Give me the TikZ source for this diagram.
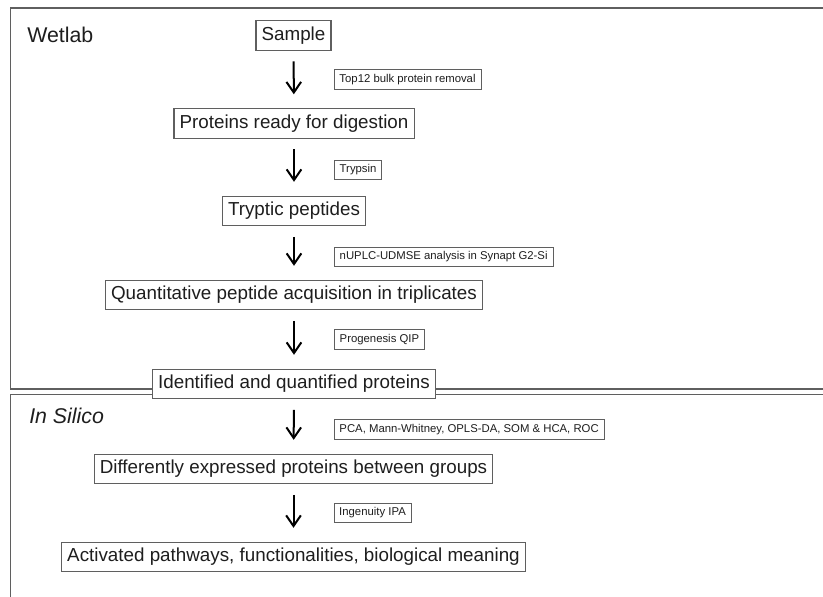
\documentclass[tikz,border=0pt]{standalone}
\usepackage{fontspec}
\setmainfont{Liberation Sans}
\usetikzlibrary{arrows.meta}
\definecolor{framegray}{RGB}{95,95,95}
\definecolor{inkgray}{RGB}{30,30,30}
\tikzset{
	stage/.style={draw=framegray,line width=0.8pt,fill=white,text=inkgray,inner xsep=4.2pt,minimum height=22pt,font=\fontsize{14.1}{16}\selectfont},
	tool/.style={draw=framegray,line width=0.6pt,fill=white,text=inkgray,inner xsep=4pt,minimum height=14.5pt,font=\fontsize{8.5}{10}\selectfont,anchor=west,xshift=30pt},
	flow/.style={line width=1.5pt,-{Straight Barb[length=8pt,width=11pt]},shorten <=8pt,shorten >=10.5pt},
	panel/.style={draw=framegray,line width=1.1pt},
	paneltitle/.style={anchor=base west,inner sep=0pt,text=inkgray,font=\fontsize{16}{19}\selectfont}
}

\begin{document}
\begin{tikzpicture}[x=0.75pt,y=-0.75pt]
	\useasboundingbox (0,0) rectangle (823,596);
	\clip (0,0) rectangle (823,596);
	\draw[panel] (10.5,8) rectangle (860,389);
	\draw[panel] (10.5,394.5) rectangle (860,640);
	\node[paneltitle] (wetlab) at (27,42) {Wetlab};
	\node[paneltitle,font=\fontsize{16}{19}\selectfont\itshape] (insilico) at (29,423) {In Silico};

	\node[stage] (sample) at (293.5,35.5) {Sample};
	\node[stage] (ready) at (294,123.5) {Proteins ready for digestion};
	\node[stage] (tryptic) at (294,211) {Tryptic peptides};
	\node[stage] (acquisition) at (294,295) {Quantitative peptide acquisition in triplicates};
	\node[stage] (identified) at (294,384) {Identified and quantified proteins};
	\node[stage] (expressed) at (293.5,469) {Differently expressed proteins between groups};
	\node[stage] (pathways) at (293.5,557) {Activated pathways, functionalities, biological meaning};

	\draw[flow] (sample) -- node[tool] {Top12 bulk protein removal} (ready);
	\draw[flow] (ready) -- node[tool,yshift=-2pt] {Trypsin} (tryptic);
	\draw[flow] (tryptic) -- node[tool,yshift=-3pt] {nUPLC-UDMSE analysis in Synapt G2-Si} (acquisition);
	\draw[flow] (acquisition) -- node[tool] {Progenesis QIP} (identified);
	\draw[flow] (identified) -- node[tool,yshift=-2pt] {PCA, Mann-Whitney, OPLS-DA, SOM \& HCA, ROC} (expressed);
	\draw[flow] (expressed) -- node[tool] {Ingenuity IPA} (pathways);
\end{tikzpicture}
\end{document}
